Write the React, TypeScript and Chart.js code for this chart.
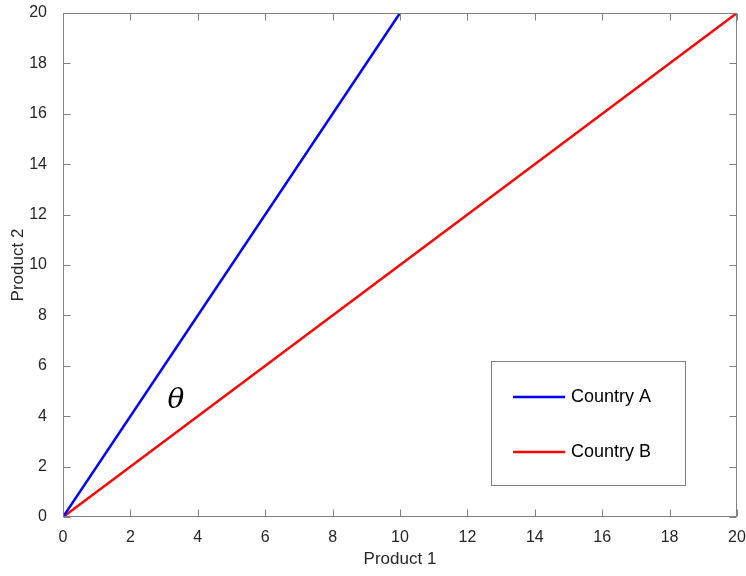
import React, { useEffect, useRef } from "react";
import { Chart, registerables } from "chart.js";

Chart.register(...registerables);

const seriesNames = ["Country A", "Country B"];
const seriesColors = ["#0000ff", "#ff0000"];
const countryA = [
  { x: 0, y: 0 },
  { x: 10, y: 20 },
];
const countryB = [
  { x: 0, y: 0 },
  { x: 20, y: 20 },
];
const tickValues = [0, 2, 4, 6, 8, 10, 12, 14, 16, 18, 20];
const angleLabel = { text: "θ", x: 3.35, y: 4.6 };

const AXIS = "#808080";
const TEXT = "#262626";
const FONT = "Liberation Sans, Arial, Helvetica, sans-serif";

const frame = {
  id: "frame",
  afterDatasetsDraw(chart: any) {
    const { ctx, chartArea: a, scales } = chart;
    const xs = scales.x;
    const ys = scales.y;
    ctx.save();
    ctx.strokeStyle = AXIS;
    ctx.lineWidth = 1;
    ctx.beginPath();
    const L = Math.round(a.left) + 0.5;
    const R = Math.round(a.right) - 0.5;
    const T = Math.round(a.top) + 0.5;
    const B = Math.round(a.bottom) - 0.5;
    ctx.rect(L, T, R - L, B - T);
    const tl = 7;
    for (const v of tickValues) {
      const px = Math.round(xs.getPixelForValue(v)) + 0.5;
      ctx.moveTo(px, B);
      ctx.lineTo(px, B - tl);
      ctx.moveTo(px, T);
      ctx.lineTo(px, T + tl);
      const py = Math.round(ys.getPixelForValue(v)) + 0.5;
      ctx.moveTo(L, py);
      ctx.lineTo(L + tl, py);
      ctx.moveTo(R, py);
      ctx.lineTo(R - tl, py);
    }
    ctx.stroke();

    // theta label
    ctx.fillStyle = "#000";
    ctx.font = "italic 28px 'DejaVu Serif', 'Liberation Serif', serif";
    ctx.textAlign = "center";
    ctx.textBaseline = "middle";
    ctx.fillText(
      angleLabel.text,
      xs.getPixelForValue(angleLabel.x),
      ys.getPixelForValue(angleLabel.y)
    );

    // legend box
    const bx = 491.5,
      by = 361.5,
      bw = 194,
      bh = 124;
    ctx.fillStyle = "#fff";
    ctx.fillRect(bx, by, bw, bh);
    ctx.strokeStyle = AXIS;
    ctx.strokeRect(bx, by, bw, bh);
    ctx.font = "18px " + FONT;
    ctx.textAlign = "left";
    ctx.textBaseline = "middle";
    const rows = [397, 452];
    chart.data.datasets.forEach((ds: any, i: number) => {
      ctx.strokeStyle = ds.borderColor;
      ctx.lineWidth = 2.5;
      ctx.beginPath();
      ctx.moveTo(513, rows[i]);
      ctx.lineTo(565, rows[i]);
      ctx.stroke();
      ctx.fillStyle = "#000";
      ctx.fillText(ds.label, 571, rows[i]);
    });
    ctx.restore();
  },
};

export default function App() {
  const ref = useRef<HTMLCanvasElement>(null);
  useEffect(() => {
    document.body.style.margin = "0";
    const chart = new Chart(ref.current!, {
      type: "scatter",
      data: {
        datasets: [
          {
            label: seriesNames[0],
            data: countryA,
            borderColor: seriesColors[0],
            backgroundColor: seriesColors[0],
            showLine: true,
            borderWidth: 2.5,
            pointRadius: 0,
          },
          {
            label: seriesNames[1],
            data: countryB,
            borderColor: seriesColors[1],
            backgroundColor: seriesColors[1],
            showLine: true,
            borderWidth: 2.5,
            pointRadius: 0,
          },
        ],
      },
      options: {
        animation: false,
        responsive: false,
        layout: { padding: { top: 13, right: 9, left: 0, bottom: 0 } },
        plugins: { legend: { display: false }, tooltip: { enabled: false } },
        scales: {
          x: {
            type: "linear",
            min: 0,
            max: 20,
            grid: { display: false },
            border: { display: false },
            afterBuildTicks: (s: any) => {
              s.ticks = tickValues.map((v) => ({ value: v }));
            },
            afterFit: (s: any) => {
              s.height = 59;
              s.paddingLeft = 0;
              s.paddingRight = 0;
            },
            ticks: {
              color: TEXT,
              font: { size: 16, family: FONT },
              padding: 3,
              maxRotation: 0,
            },
            title: {
              display: true,
              text: "Product 1",
              color: TEXT,
              font: { size: 17, family: FONT },
              padding: { top: 0, bottom: 6 },
            },
          },
          y: {
            type: "linear",
            min: 0,
            max: 20,
            grid: { display: false },
            border: { display: false },
            afterBuildTicks: (s: any) => {
              s.ticks = tickValues.map((v) => ({ value: v }));
            },
            afterFit: (s: any) => {
              s.width = 63;
              s.paddingTop = 0;
              s.paddingBottom = 0;
            },
            ticks: {
              color: TEXT,
              font: { size: 16, family: FONT },
              padding: 8,
            },
            title: {
              display: true,
              text: "Product 2",
              color: TEXT,
              font: { size: 17, family: FONT },
              padding: { top: 8, bottom: 0 },
            },
          },
        },
      },
      plugins: [frame],
    });
    return () => chart.destroy();
  }, []);
  return (
    <div style={{ width: 746, height: 576 }}>
      <canvas ref={ref} width={746} height={576} />
    </div>
  );
}
